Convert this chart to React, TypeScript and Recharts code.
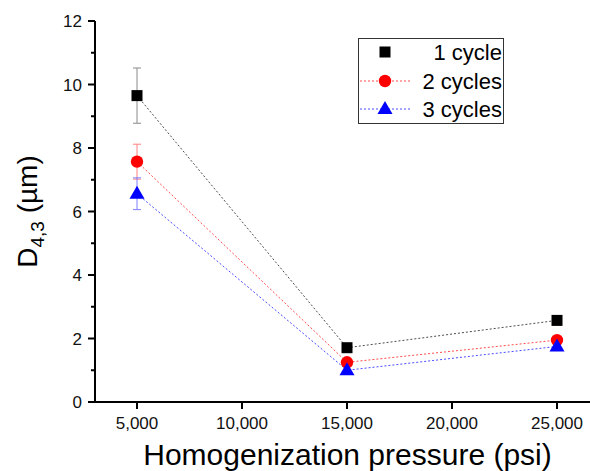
import React from 'react';
import { LineChart, Line, XAxis, YAxis, ErrorBar, Legend } from 'recharts';

const pressures = [5000, 15000, 25000];
const cycle1 = [9.65, 1.71, 2.57];
const cycle1Err = [0.87, 0, 0];
const cycle2 = [7.57, 1.25, 1.95];
const cycle2Err = [0.55, 0, 0];
const cycle3 = [6.56, 1.0, 1.75];
const cycle3Err = [0.5, 0, 0];
const seriesNames = ['1 cycle', '2 cycles', '3 cycles'];
const xTicks = [5000, 10000, 15000, 20000, 25000];
const yTicks = [0, 1, 2, 3, 4, 5, 6, 7, 8, 9, 10, 11, 12];

const data = pressures.map((p, i) => ({
  p,
  c1: cycle1[i],
  e1: cycle1Err[i],
  c2: cycle2[i],
  e2: cycle2Err[i],
  c3: cycle3[i],
  e3: cycle3Err[i],
}));

const FONT = '"Liberation Sans", Arial, sans-serif';

const Square = (cx: number, cy: number, key?: any) => (
  <rect key={key} x={cx - 5.5} y={cy - 5.5} width={11} height={11} fill="#000" />
);
const Circle = (cx: number, cy: number, key?: any) => (
  <circle key={key} cx={cx} cy={cy} r={6.2} fill="#ff0000" />
);
const Triangle = (cx: number, cy: number, key?: any) => (
  <path key={key} d={`M${cx},${cy - 8}L${cx + 7.5},${cy + 5}L${cx - 7.5},${cy + 5}Z`} fill="#0000ff" />
);
const markers = [Square, Circle, Triangle];

const makeDot = (m: (x: number, y: number, k?: any) => any) => (props: any) => {
  const { cx, cy, index } = props;
  if (cx == null || cy == null) return <g key={index} />;
  return m(cx, cy, index);
};

const YTick = (props: any) => {
  const { x, y, payload } = props;
  const v = payload.value;
  const major = v % 2 === 0;
  return (
    <g>
      <line x1={x - (major ? 7 : 4)} x2={x} y1={y} y2={y} stroke="#000" strokeWidth={2} />
      {major && (
        <text x={x - 13} y={y + 6} textAnchor="end" fontSize={17} fontFamily={FONT} fill="#111">
          {v}
        </text>
      )}
    </g>
  );
};

const XTick = (props: any) => {
  const { x, y, payload } = props;
  return (
    <g>
      <line x1={x} x2={x} y1={y} y2={y + 7} stroke="#000" strokeWidth={2} />
      <text x={x} y={y + 27} textAnchor="middle" fontSize={17} fontFamily={FONT} fill="#111">
        {payload.value.toLocaleString('en-US')}
      </text>
    </g>
  );
};

const XLabel = (props: any) => {
  const vb = props.viewBox || {};
  const cx = vb.x + vb.width / 2 + 5;
  return (
    <text x={cx} y={vb.y + 63} textAnchor="middle" fontSize={30} fontFamily={FONT} fill="#000">
      Homogenization pressure (psi)
    </text>
  );
};

const YLabel = (props: any) => {
  const vb = props.viewBox || {};
  const cy = vb.y + vb.height / 2;
  const x = 37;
  return (
    <text
      x={x}
      y={cy}
      transform={`rotate(-90, ${x}, ${cy})`}
      textAnchor="middle"
      fontSize={28}
      fontFamily={FONT}
      fill="#000"
    >
      D
      <tspan fontSize={19} dy={7}>4,3</tspan>
      <tspan dy={-7}> (µm)</tspan>
    </text>
  );
};

const legendColors = ['#000', '#ff0000', '#0000ff'];
const legendShowLine = [false, true, true];

const LegendBox = () => {
  const rows = [14, 43, 71];
  return (
    <svg width={146} height={86} style={{ display: 'block' }}>
      <rect x={0.5} y={0.5} width={145} height={85} fill="#fff" stroke="#333" strokeWidth={1} />
      {seriesNames.map((name, i) => (
        <g key={name}>
          {legendShowLine[i] && (
            <line x1={2} x2={52} y1={rows[i]} y2={rows[i]} stroke={legendColors[i]} strokeWidth={1} strokeDasharray="2 2" opacity={0.7} />
          )}
          {markers[i](27, rows[i])}
          <text x={144} y={rows[i] + 7.5} textAnchor="end" fontSize={22} fontFamily={FONT} fill="#000">
            {name}
          </text>
        </g>
      ))}
    </svg>
  );
};

export default function App() {
  return (
    <div style={{ position: 'absolute', left: 0, top: 0, background: '#fff' }}>
      <LineChart width={590} height={471} data={data} margin={{ top: 21, right: 0, bottom: 0, left: 0 }}>
        <XAxis
          dataKey="p"
          type="number"
          domain={[3000, 26571]}
          allowDataOverflow
          ticks={xTicks}
          tick={<XTick />}
          tickLine={false}
          tickSize={0}
          tickMargin={0}
          height={69}
          stroke="#000"
          axisLine={{ stroke: '#000', strokeWidth: 2 }}
          label={<XLabel />}
        />
        <YAxis
          type="number"
          domain={[0, 12]}
          allowDataOverflow
          ticks={yTicks}
          interval={0}
          tick={<YTick />}
          tickLine={false}
          tickSize={0}
          tickMargin={0}
          width={95}
          stroke="#000"
          axisLine={{ stroke: '#000', strokeWidth: 2 }}
          label={<YLabel />}
        />
        <Legend
          layout="vertical"
          align="center"
          verticalAlign="middle"
          content={<LegendBox />}
          wrapperStyle={{ position: 'absolute', left: 358, top: 38, width: 146, height: 86 }}
        />
        <Line
          dataKey="c1"
          name={seriesNames[0]}
          stroke="#000"
          strokeWidth={1}
          strokeDasharray="2 2"
          strokeOpacity={0.7}
          dot={makeDot(Square)}
          activeDot={false}
          isAnimationActive={false}
        >
          <ErrorBar dataKey="e1" width={4} stroke="#8a8a8a" strokeWidth={1} direction="y" isAnimationActive={false} />
        </Line>
        <Line
          dataKey="c2"
          name={seriesNames[1]}
          stroke="#ff0000"
          strokeWidth={1}
          strokeDasharray="2 2"
          strokeOpacity={0.7}
          dot={makeDot(Circle)}
          activeDot={false}
          isAnimationActive={false}
        >
          <ErrorBar dataKey="e2" width={4} stroke="#ff8080" strokeWidth={1} direction="y" isAnimationActive={false} />
        </Line>
        <Line
          dataKey="c3"
          name={seriesNames[2]}
          stroke="#0000ff"
          strokeWidth={1}
          strokeDasharray="2 2"
          strokeOpacity={0.7}
          dot={makeDot(Triangle)}
          activeDot={false}
          isAnimationActive={false}
        >
          <ErrorBar dataKey="e3" width={4} stroke="#8080ff" strokeWidth={1} direction="y" isAnimationActive={false} />
        </Line>
      </LineChart>
    </div>
  );
}
